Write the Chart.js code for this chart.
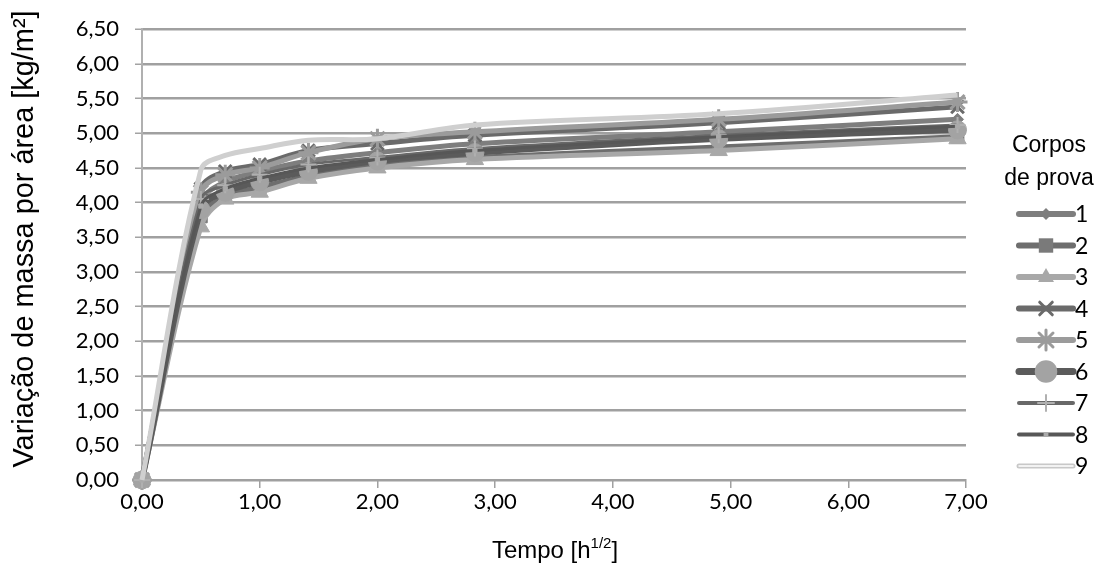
<!DOCTYPE html>
<html>
<head>
<meta charset="utf-8">
<script src="https://cdn.jsdelivr.net/npm/chart.js@4/dist/chart.umd.min.js"></script>
<style>
html,body{margin:0;padding:0;background:#fff;}
#wrap{width:1104px;height:570px;position:relative;}
</style>
</head>
<body>
<div id="wrap"><canvas id="c" width="1104" height="570"></canvas></div>
<script>
// ---- Data ----
const tempo = [0, 0.5, 0.707, 1, 1.414, 2, 2.828, 4.899, 6.928];
const serieLabels = ['1','2','3','4','5','6','7','8','9'];
const s1 = [0, 4.00, 4.30, 4.45, 4.60, 4.72, 4.85, 5.02, 5.20];
const s2 = [0, 3.80, 4.08, 4.22, 4.38, 4.55, 4.65, 4.80, 4.95];
const s3 = [0, 3.65, 4.05, 4.15, 4.35, 4.50, 4.62, 4.75, 4.92];
const s4 = [0, 4.20, 4.45, 4.55, 4.75, 4.85, 4.97, 5.15, 5.38];
const s5 = [0, 4.15, 4.40, 4.50, 4.72, 4.92, 5.02, 5.20, 5.45];
const s6 = [0, 3.90, 4.15, 4.30, 4.45, 4.60, 4.72, 4.92, 5.05];
const s7 = [0, 4.05, 4.25, 4.40, 4.55, 4.65, 4.78, 4.97, 5.12];
const s8 = [0, 3.95, 4.20, 4.35, 4.50, 4.62, 4.75, 4.95, 5.10];
const s9 = [0, 4.47, 4.68, 4.78, 4.90, 4.92, 5.12, 5.28, 5.55];
const yTicks = [0,0.5,1,1.5,2,2.5,3,3.5,4,4.5,5,5.5,6,6.5];
const xTicks = [0,1,2,3,4,5,6,7];
const allSeries = [s1,s2,s3,s4,s5,s6,s7,s8,s9];

// ---- Styles ----
const styles = [
  {line:'#7e7e7e', w:5, ps:'rectRot', r:6, pf:'#7e7e7e', pb:'#7e7e7e'},
  {line:'#6e6e6e', w:5, ps:'rect', r:9, pf:'#7a7a7a', pb:'#7a7a7a'},
  {line:'#a8a8a8', w:5, ps:'triangle', r:10, pf:'#a8a8a8', pb:'#a8a8a8'},
  {line:'#6a6a6a', w:5, ps:'crossRot', r:9, pf:'#6a6a6a', pb:'#6a6a6a', pbw:3},
  {line:'#9b9b9b', w:5, ps:'star', r:10, pf:'#9b9b9b', pb:'#9b9b9b', pbw:3},
  {line:'#5b5b5b', w:6, ps:'circle', r:9, pf:'#a3a3a3', pb:'#a3a3a3'},
  {line:'#686868', w:3, ps:'cross', r:8, pf:'#b0b0b0', pb:'#b0b0b0', pbw:2},
  {line:'#575757', w:3, ps:'rect', r:3, pf:'#aaaaaa', pb:'#aaaaaa'},
  {line:'#cfcfcf', w:5, ps:false, r:0, pf:'#cfcfcf', pb:'#cfcfcf'}
];

const fmt = v => v.toFixed(2).replace('.', ',');

const datasets = allSeries.map((s, i) => {
  const st = styles[i];
  return {
    label: serieLabels[i],
    data: s.map((v, k) => ({x: tempo[k], y: v})),
    borderColor: st.line,
    borderWidth: st.w,
    backgroundColor: st.pf,
    pointStyle: st.ps,
    pointRadius: st.r,
    pointBackgroundColor: st.pf,
    pointBorderColor: st.pb,
    pointBorderWidth: st.pbw || 1,
    pointHoverRadius: st.r,
    tension: 0.35,
    fill: false,
    clip: false,
    order: 10 - i
  };
});

function drawMarker(ctx, st, x, y) {
  ctx.save();
  ctx.fillStyle = st.pf; ctx.strokeStyle = st.pb; ctx.lineWidth = st.pbw || 1;
  const r = st.r;
  ctx.beginPath();
  switch (st.ps) {
    case 'rectRot':
      ctx.moveTo(x, y - r); ctx.lineTo(x + r, y); ctx.lineTo(x, y + r); ctx.lineTo(x - r, y); ctx.closePath(); ctx.fill(); break;
    case 'rect': {
      const h = r * 0.8; ctx.rect(x - h, y - h, 2 * h, 2 * h); ctx.fill(); break; }
    case 'triangle':
      ctx.moveTo(x, y - r * 0.9); ctx.lineTo(x + r * 0.8, y + r * 0.5); ctx.lineTo(x - r * 0.8, y + r * 0.5); ctx.closePath(); ctx.fill(); break;
    case 'crossRot': {
      const d = r * 0.7; ctx.moveTo(x - d, y - d); ctx.lineTo(x + d, y + d); ctx.moveTo(x + d, y - d); ctx.lineTo(x - d, y + d); ctx.stroke(); break; }
    case 'star': {
      const d = r * 0.7; ctx.moveTo(x - d, y - d); ctx.lineTo(x + d, y + d); ctx.moveTo(x + d, y - d); ctx.lineTo(x - d, y + d);
      ctx.moveTo(x, y - r); ctx.lineTo(x, y + r); ctx.stroke(); break; }
    case 'circle':
      ctx.arc(x, y, r * 1.25, 0, Math.PI * 2); ctx.fill(); break;
    case 'cross':
      ctx.moveTo(x - r, y); ctx.lineTo(x + r, y); ctx.moveTo(x, y - r); ctx.lineTo(x, y + r); ctx.stroke(); break;
  }
  ctx.restore();
}

const SANS = '"Liberation Sans", Arial, sans-serif';
const TICKF = 'Lato, "Open Sans", sans-serif';

const decor = {
  id: 'decor',
  afterDraw(chart) {
    const ctx = chart.ctx;
    ctx.save();
    // Y title
    ctx.fillStyle = '#000';
    const ytxt = 'Variação de massa por área [kg/m²]';
    ctx.font = '24px ' + SANS;
    let m = ctx.measureText(ytxt).width;
    const ys = 24 * 458 / m;
    ctx.font = ys.toFixed(1) + 'px ' + SANS;
    ctx.translate(25, 239);
    ctx.rotate(-Math.PI / 2);
    ctx.textAlign = 'center'; ctx.textBaseline = 'middle';
    ctx.fillText(ytxt, 0, 0);
    ctx.restore();

    // X title with superscript
    ctx.save();
    ctx.fillStyle = '#000';
    ctx.textBaseline = 'alphabetic';
    const bs = 24, ss = 15;
    const big = bs + 'px ' + SANS;
    const small = ss + 'px ' + SANS;
    ctx.font = big; const w1 = ctx.measureText('Tempo [h').width; const w3 = ctx.measureText(']').width;
    ctx.font = small; const w2 = ctx.measureText('1/2').width;
    let x0 = 555 - (w1 + w2 + w3) / 2;
    const yb = 558;
    ctx.font = big; ctx.fillText('Tempo [h', x0, yb);
    ctx.font = small; ctx.fillText('1/2', x0 + w1, yb - 10);
    ctx.font = big; ctx.fillText(']', x0 + w1 + w2, yb);
    ctx.restore();

    // Legend
    ctx.save();
    ctx.fillStyle = '#000';
    ctx.font = '23px ' + SANS;
    ctx.textAlign = 'center'; ctx.textBaseline = 'middle';
    ctx.fillText('Corpos', 1049, 146);
    ctx.fillText('de prova', 1049, 179);
    ctx.font = '23px ' + TICKF;
    ctx.textAlign = 'left';
    for (let i = 0; i < serieLabels.length; i++) {
      const st = styles[i];
      const y = 214 + i * 31.5;
      const xa = 1019, xb = 1073;
      ctx.save();
      ctx.lineCap = 'round';
      if (i === 8) {
        ctx.strokeStyle = '#c8c8c8'; ctx.lineWidth = 5;
        ctx.beginPath(); ctx.moveTo(xa, y); ctx.lineTo(xb, y); ctx.stroke();
        ctx.strokeStyle = '#ffffff'; ctx.lineWidth = 1.5;
        ctx.beginPath(); ctx.moveTo(xa, y); ctx.lineTo(xb, y); ctx.stroke();
      } else {
        ctx.strokeStyle = st.line; ctx.lineWidth = st.w + 1;
        ctx.beginPath(); ctx.moveTo(xa, y); ctx.lineTo(xb, y); ctx.stroke();
        drawMarker(ctx, st, (xa + xb) / 2, y);
      }
      ctx.restore();
      ctx.fillStyle = '#000';
      ctx.fillText(serieLabels[i], 1075, y + 1);
    }
    ctx.restore();
  }
};

new Chart(document.getElementById('c'), {
  type: 'line',
  data: { datasets },
  options: {
    responsive: false,
    animation: false,
    events: [],
    layout: { padding: { left: 62, right: 138, top: 26, bottom: 50 } },
    plugins: { legend: { display: false }, tooltip: { enabled: false } },
    scales: {
      x: {
        type: 'linear', min: 0, max: 7,
        afterBuildTicks: s => { s.ticks = xTicks.map(v => ({value: v})); },
        afterFit: s => { s.height = 40; },
        ticks: { callback: v => fmt(v), color: '#000', font: { family: TICKF, size: 22 }, padding: 1, maxRotation: 0 },
        grid: { drawOnChartArea: false, drawTicks: true, tickLength: 8, color: '#a0a0a0', lineWidth: 1.5 },
        border: { display: true, color: '#a0a0a0', width: 2 }
      },
      y: {
        type: 'linear', min: 0, max: 6.5,
        afterBuildTicks: s => { s.ticks = yTicks.map(v => ({value: v})); },
        afterFit: s => { s.width = 80; },
        ticks: { callback: v => fmt(v), color: '#000', font: { family: TICKF, size: 22 }, padding: 16 },
        grid: { color: '#a0a0a0', lineWidth: 2.5, tickLength: 7, tickColor: '#a3a3a3', tickWidth: 1.5 },
        border: { display: true, color: '#b0b0b0', width: 2 }
      }
    }
  },
  plugins: [decor]
});
</script>
</body>
</html>
